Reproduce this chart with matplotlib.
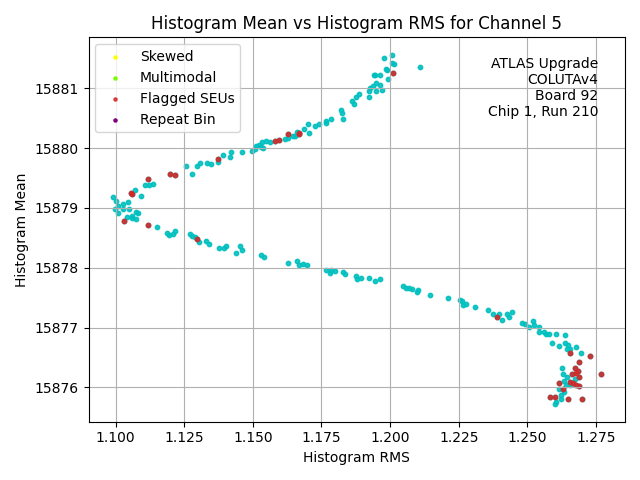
import matplotlib
matplotlib.use("Agg")
import matplotlib.pyplot as plt
import numpy as np

plt.rcParams["figure.autolayout"] = True

# histogram RMS / mean for every run of channel 5 (unflagged bins)
rms = np.array([
    1.0990, 1.1001, 1.1008, 1.0997, 1.1008, 1.1027, 1.1027, 1.1045, 1.1048, 1.1041,
    1.1059, 1.1059, 1.1074, 1.1081, 1.1074, 1.1070, 1.1092, 1.1107, 1.1121, 1.1136,
    1.1150, 1.1258, 1.1277, 1.1297, 1.1309, 1.1331, 1.1346, 1.1373, 1.1392, 1.1416,
    1.1422, 1.1462, 1.1495, 1.1507, 1.1513, 1.1523, 1.1531, 1.1537, 1.1534, 1.1547,
    1.1562, 1.1616, 1.1627, 1.1646, 1.1653, 1.1659, 1.1685, 1.1704, 1.1701, 1.1725,
    1.1741, 1.1765, 1.1768, 1.1786, 1.1822, 1.1826, 1.1828, 1.1862, 1.1869, 1.1877,
    1.1887, 1.1923, 1.1922, 1.1928, 1.1938, 1.1948, 1.1948, 1.1962, 1.1971, 1.1942,
    1.1944, 1.1962, 1.1992, 1.1986, 1.1989, 1.1978, 1.2008, 1.2006, 1.2013, 1.2108,
    1.1188, 1.1194, 1.1210, 1.1215, 1.1270, 1.1279, 1.1289, 1.1304, 1.1329, 1.1341,
    1.1377, 1.1395, 1.1401, 1.1438, 1.1452, 1.1461, 1.1531, 1.1540, 1.1628, 1.1661,
    1.1668, 1.1683, 1.1697, 1.1768, 1.1780, 1.1786, 1.1801, 1.1828, 1.1834, 1.1874,
    1.1881, 1.1894, 1.1923, 1.1945, 1.1963, 1.2047, 1.2059, 1.2069, 1.2079, 1.2097,
    1.2101, 1.2144, 1.2211, 1.2253, 1.2262, 1.2265, 1.2278, 1.2308, 1.2356, 1.2374,
    1.2396, 1.2407, 1.2425, 1.2432, 1.2444, 1.2480, 1.2490, 1.2506, 1.2520, 1.2526,
    1.2544, 1.2542, 1.2560, 1.2569, 1.2578, 1.2605, 1.2639, 1.2591, 1.2617, 1.2638,
    1.2647, 1.2644, 1.2654, 1.2676, 1.2695, 1.2627, 1.2629, 1.2645, 1.2674, 1.2635,
    1.2642, 1.2654, 1.2617, 1.2632, 1.2623, 1.2603, 1.2599, 1.2623,
])
mean = np.array([
    15879.18, 15879.11, 15879.03, 15878.98, 15878.92, 15879.07, 15878.98, 15879.10, 15878.98, 15878.85,
    15878.87, 15878.83, 15878.93, 15878.92, 15878.82, 15879.30, 15879.20, 15879.38, 15879.38, 15879.40,
    15878.68, 15879.71, 15879.57, 15879.70, 15879.76, 15879.76, 15879.74, 15879.77, 15879.88, 15879.86,
    15879.93, 15879.93, 15879.96, 15879.98, 15880.03, 15880.05, 15880.02, 15880.01, 15880.11, 15880.12,
    15880.11, 15880.16, 15880.17, 15880.21, 15880.20, 15880.27, 15880.32, 15880.25, 15880.40, 15880.37,
    15880.41, 15880.45, 15880.42, 15880.49, 15880.63, 15880.58, 15880.48, 15880.79, 15880.73, 15880.86,
    15880.91, 15880.95, 15880.85, 15881.01, 15881.04, 15881.09, 15880.96, 15881.05, 15880.97, 15881.22,
    15881.23, 15881.23, 15881.15, 15881.32, 15881.30, 15881.51, 15881.56, 15881.42, 15881.41, 15881.36,
    15878.59, 15878.55, 15878.56, 15878.61, 15878.57, 15878.54, 15878.51, 15878.43, 15878.44, 15878.40,
    15878.33, 15878.33, 15878.36, 15878.25, 15878.36, 15878.29, 15878.21, 15878.18, 15878.08, 15878.11,
    15878.04, 15878.07, 15878.04, 15877.97, 15877.92, 15877.96, 15877.94, 15877.93, 15877.89, 15877.86,
    15877.81, 15877.83, 15877.83, 15877.78, 15877.82, 15877.69, 15877.67, 15877.66, 15877.65, 15877.59,
    15877.63, 15877.54, 15877.49, 15877.47, 15877.44, 15877.38, 15877.40, 15877.35, 15877.30, 15877.23,
    15877.23, 15877.13, 15877.22, 15877.17, 15877.27, 15877.08, 15877.06, 15877.01, 15877.11, 15877.04,
    15877.01, 15876.92, 15876.93, 15876.89, 15876.90, 15876.90, 15876.88, 15876.75, 15876.69, 15876.75,
    15876.71, 15876.65, 15876.65, 15876.67, 15876.57, 15876.32, 15876.22, 15876.18, 15876.15, 15876.11,
    15876.04, 15876.04, 15875.97, 15875.93, 15875.87, 15875.76, 15875.72, 15875.80,
])

# runs flagged with SEUs
seu_rms = np.array([
    1.1030, 1.1056, 1.1059, 1.1118, 1.1118, 1.1198, 1.1218, 1.1373, 1.1580, 1.1596,
    1.1629, 1.1667, 1.1668, 1.2010, 1.1297, 1.2389, 1.2656, 1.2730, 1.2690, 1.2674,
    1.2686, 1.2662, 1.2678, 1.2690, 1.2767, 1.2617, 1.2656, 1.2666, 1.2678, 1.2690,
    1.2629, 1.2581, 1.2599, 1.2647, 1.2698,
])
seu_mean = np.array([
    15878.79, 15879.25, 15879.23, 15879.49, 15878.71, 15879.57, 15879.55, 15879.82, 15880.12, 15880.14,
    15880.23, 15880.26, 15880.23, 15881.25, 15878.48, 15877.17, 15876.57, 15876.52, 15876.42, 15876.32,
    15876.28, 15876.23, 15876.24, 15876.18, 15876.23, 15876.07, 15876.09, 15876.07, 15876.04, 15876.03,
    15875.97, 15875.84, 15875.84, 15875.80, 15875.80,
])

all_rms = np.concatenate([rms, seu_rms])
all_mean = np.concatenate([mean, seu_mean])

fig, ax = plt.subplots(figsize=(6.4, 4.8), dpi=100)
ax.scatter(all_rms, all_mean, c="c", s=10, alpha=0.9)
ax.scatter(seu_rms, seu_mean, c="tab:red", s=10, alpha=0.85)

# legend entries
ax.scatter([], [], c="yellow", s=5, label="Skewed")
ax.scatter([], [], c="lawngreen", s=5, label="Multimodal")
ax.scatter([], [], c="tab:red", s=5, alpha=0.85, label="Flagged SEUs")
ax.scatter([], [], c="purple", s=5, label="Repeat Bin")
ax.legend(loc="upper left")

ax.text(0.95, 0.95, "ATLAS Upgrade\nCOLUTAv4\nBoard 92\nChip 1, Run 210",
        transform=ax.transAxes, ha="right", va="top", multialignment="right")

ax.set_title("Histogram Mean vs Histogram RMS for Channel 5")
ax.set_xlabel("Histogram RMS")
ax.set_ylabel("Histogram Mean")
ax.ticklabel_format(useOffset=False)
ax.grid(True)

plt.savefig("out.png")
